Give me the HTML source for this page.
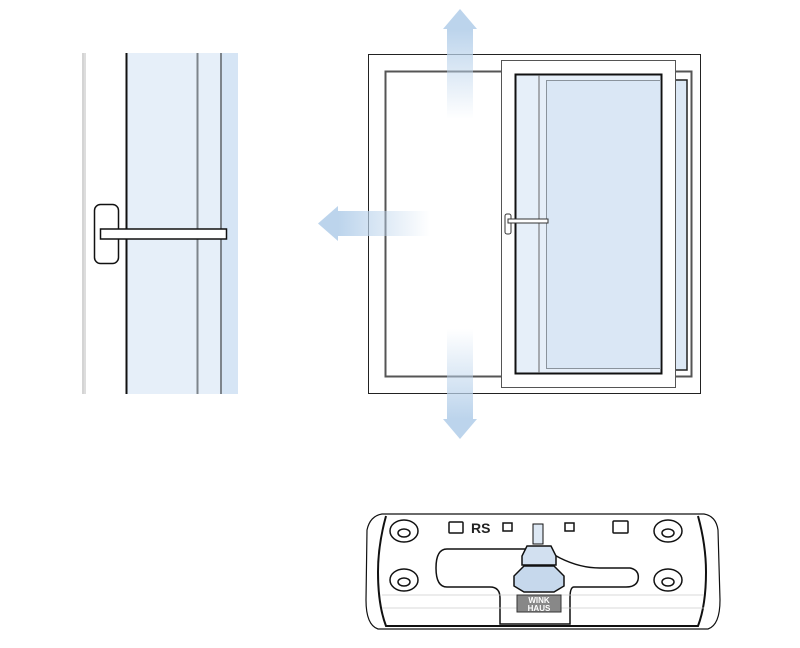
<!DOCTYPE html>
<html><head><meta charset="utf-8"><style>html,body{margin:0;padding:0;background:#fff}svg{display:block}</style></head>
<body>
<svg width="800" height="648" viewBox="0 0 800 648" xmlns="http://www.w3.org/2000/svg">
<defs>
<linearGradient id="gu" x1="0" y1="0" x2="0" y2="1"><stop offset="0" stop-color="#bcd4ec"/><stop offset="1" stop-color="#bcd4ec" stop-opacity="0"/></linearGradient>
<linearGradient id="gd" x1="0" y1="1" x2="0" y2="0"><stop offset="0" stop-color="#bcd4ec"/><stop offset="1" stop-color="#bcd4ec" stop-opacity="0"/></linearGradient>
<linearGradient id="gl" x1="0" y1="0" x2="1" y2="0"><stop offset="0" stop-color="#bcd4ec"/><stop offset="1" stop-color="#bcd4ec" stop-opacity="0"/></linearGradient>
</defs>
<!-- left detail -->
<line x1="83" y1="53" x2="83" y2="394" stroke="#aaa"/>
<line x1="85" y1="53" x2="85" y2="394" stroke="#bbb"/>
<rect x="126" y="53" width="112" height="341" fill="#e6eff9"/>
<rect x="222" y="53" width="16" height="341" fill="#d6e5f5"/>
<line x1="126.5" y1="53" x2="126.5" y2="394" stroke="#111" stroke-width="2"/>
<line x1="197.5" y1="53" x2="197.5" y2="394" stroke="#7d848b" stroke-width="2"/>
<line x1="221" y1="53" x2="221" y2="394" stroke="#7d848b" stroke-width="2"/>
<rect x="94.5" y="204.5" width="24" height="59" rx="6" fill="#fff" stroke="#111" stroke-width="1.5"/>
<rect x="100.5" y="229" width="126" height="10" fill="#fff" stroke="#111" stroke-width="1.5"/>
<!-- window -->
<rect x="368.5" y="54.5" width="332" height="339" fill="#fff" stroke="#222"/>
<rect x="385.5" y="71.5" width="306" height="305" fill="none" stroke="#555" stroke-width="2"/>
<rect x="675" y="80" width="12" height="290" fill="#dce8f5" stroke="#222" stroke-width="1.5"/>
<rect x="501.5" y="60.5" width="174" height="327" fill="#fff" stroke="#555"/>
<rect x="515.5" y="74.5" width="146" height="299" fill="#e6eff9" stroke="#111" stroke-width="2"/>
<line x1="539" y1="75" x2="539" y2="373" stroke="#666"/>
<rect x="546.5" y="80.5" width="114" height="288" fill="#dae7f5" stroke="#8a939c"/>
<rect x="505" y="214" width="6" height="20" rx="2" fill="#fff" stroke="#333"/>
<rect x="508" y="219" width="40" height="4" fill="#fff" stroke="#333"/>
<!-- arrows -->
<rect x="447" y="29" width="26" height="90" fill="url(#gu)"/>
<polygon points="460,9 477,29 443,29" fill="#bcd4ec"/>
<rect x="447" y="329" width="26" height="90" fill="url(#gd)"/>
<polygon points="460,439 477,419 443,419" fill="#bcd4ec"/>
<rect x="338" y="211" width="92" height="25" fill="url(#gl)"/>
<polygon points="318,223.5 338,206 338,241" fill="#bcd4ec"/>
<!-- hardware -->
<g fill="none" stroke="#111">
<path d="M382,514 L704,514 Q716,516 718,530 L720,600 Q720,625 708,629 L378,629 Q366,625 366,600 L367,530 Q370,516 382,514 Z" stroke-width="1.2"/>
<path d="M386,516 Q378,545 378,572 Q378,605 386,626 L698,626 Q706,605 706,572 Q706,545 698,516" stroke-width="2"/>
<path d="M447,549 L525,549 Q545,549 560,558 Q580,568 600,568 L630,568 Q640,570 638,580 Q636,587 626,587 L574,587 Q570,587 570,598 L570,624 L500,624 L500,598 Q500,587 490,587 L447,587 Q436,587 436,568 Q436,549 447,549 Z" stroke-width="1.5"/>
<line x1="382" y1="595" x2="704" y2="595" stroke="#ccc" stroke-width="0.8"/>
<line x1="382" y1="608" x2="704" y2="608" stroke="#ccc" stroke-width="0.8"/>
</g>
<g fill="none" stroke="#111" stroke-width="1.5">
<ellipse cx="404" cy="531" rx="14" ry="11"/><ellipse cx="404" cy="533" rx="6" ry="4"/>
<ellipse cx="404" cy="580" rx="14" ry="11"/><ellipse cx="404" cy="582" rx="6" ry="4"/>
<ellipse cx="668" cy="531" rx="14" ry="11"/><ellipse cx="668" cy="533" rx="6" ry="4"/>
<ellipse cx="668" cy="580" rx="14" ry="11"/><ellipse cx="668" cy="582" rx="6" ry="4"/>
<rect x="449" y="522" width="14" height="11" rx="1"/>
<rect x="503" y="523" width="9" height="8"/>
<rect x="565" y="523" width="9" height="8"/>
<rect x="613" y="521" width="15" height="12" rx="1"/>
</g>
<text x="471" y="533" font-family="Liberation Sans, sans-serif" font-weight="bold" font-size="14" fill="#222">RS</text>
<rect x="533" y="524" width="10" height="20" fill="#dde8f4" stroke="#111"/>
<polygon points="527,546 551,546 556,556 556,565 522,565 522,556" fill="#d2e0f0" stroke="#111" stroke-width="1.5"/>
<polygon points="524,566 554,566 564,576 564,586 554,592 524,592 514,586 514,576" fill="#c6d8ec" stroke="#111" stroke-width="1.5"/>
<rect x="517" y="595" width="44" height="17" fill="#888" stroke="#333"/>
<text x="539" y="603" text-anchor="middle" font-family="Liberation Sans, sans-serif" font-weight="bold" font-size="8" fill="#fff">WINK</text>
<text x="539" y="611" text-anchor="middle" font-family="Liberation Sans, sans-serif" font-weight="bold" font-size="8" fill="#fff">HAUS</text>
</svg>
</body></html>
